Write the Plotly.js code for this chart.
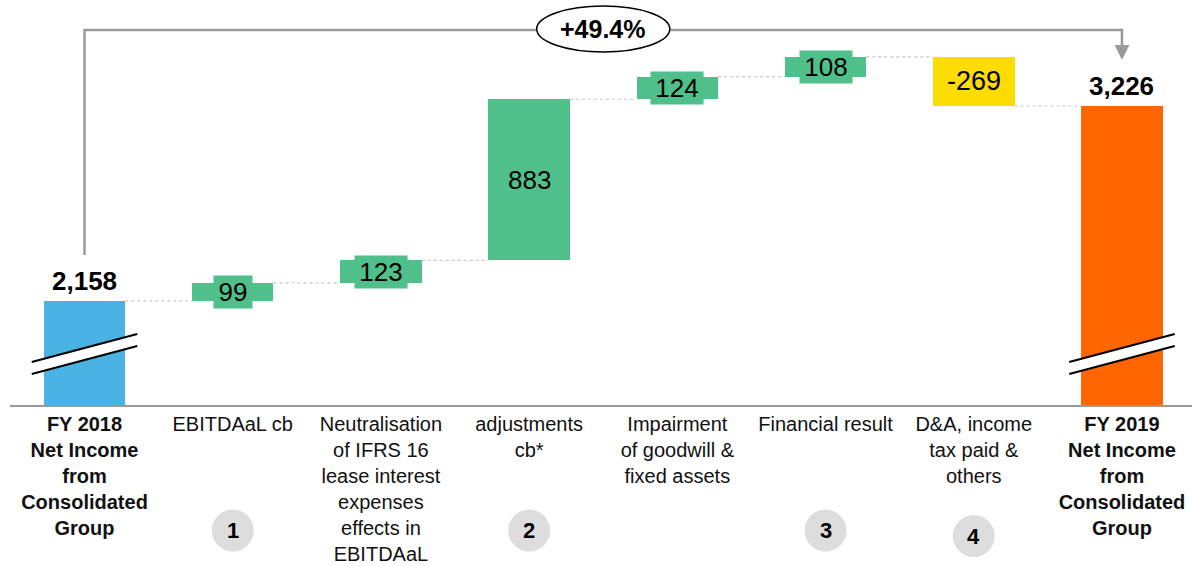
<!DOCTYPE html>
<html><head><meta charset="utf-8">
<script src="https://cdn.plot.ly/plotly-3.0.1.min.js"></script>
<style>html,body{margin:0;padding:0;background:#fff}#chart{width:1192px;height:566px}</style>
</head><body><div id="chart"></div>
<script>
// ---- data ----
const categories = [
  '<b>FY 2018</b><br><b>Net Income</b><br><b>from</b><br><b>Consolidated</b><br><b>Group</b>',
  'EBITDAaL cb',
  'Neutralisation<br>of IFRS 16<br>lease interest<br>expenses<br>effects in<br>EBITDAaL',
  'adjustments<br>cb*',
  'Impairment<br>of goodwill &<br>fixed assets',
  'Financial result',
  'D&A, income<br>tax paid &<br>others',
  '<b>FY 2019</b><br><b>Net Income</b><br><b>from</b><br><b>Consolidated</b><br><b>Group</b>'
];
const values = [2158, 99, 123, 883, 124, 108, -269, 3226];
const measures = ['absolute','relative','relative','relative','relative','relative','relative','total'];
const badges = ['', '1', '', '2', '', '3', '4', ''];
const growthLabel = '+49.4%';

// ---- styles ----
const colors = ['#4BB2E4','#50C08A','#50C08A','#50C08A','#50C08A','#50C08A','#FFDC00','#FF6600'];
const FONT = '"Liberation Sans", Arial, Helvetica, sans-serif';
const PLOT_H = 405;               // plot area height in px (margin top 0)
const py = p => 1 - p / PLOT_H;  // pixel row -> paper y
const BAR_W = 0.55;

// ---- derived ----
const idx = categories.map((_, i) => i);
const bases = [], tops = [];
let run = 0;
values.forEach((v, i) => {
  if (measures[i] === 'relative') { bases.push(run); run += v; }
  else { bases.push(0); run = v; }
  tops.push(run);
});

const bars = {
  type: 'bar', x: idx, y: values, base: bases, width: BAR_W,
  marker: {color: colors, line: {width: 0}}, hoverinfo: 'skip', cliponaxis: true
};

const cx = [], cy = [];
for (let i = 0; i < values.length - 1; i++) {
  cx.push(i + BAR_W / 2, i + 1 - BAR_W / 2, null);
  cy.push(tops[i], tops[i], null);
}
const connectors = {
  type: 'scatter', mode: 'lines', x: cx, y: cy, hoverinfo: 'skip',
  line: {color: '#c8c8c8', width: 1.2, dash: 'dot'}
};

const fmt = v => v.toLocaleString('en-US');
const annotations = [];
values.forEach((v, i) => {
  if (measures[i] === 'relative') {
    const txt = fmt(v);
    const a = {
      x: i, y: bases[i] + v / 2, xref: 'x', yref: 'y', text: txt, showarrow: false,
      font: {family: FONT, size: v < 0 ? 27 : 26, color: '#000'}, xanchor: 'center', yanchor: 'middle'
    };
    if (v > 0 && Math.abs(v) < 300) {
      a.bgcolor = colors[i]; a.width = txt.length * 14 + 10; a.height = 32; a.borderpad = 0;
    }
    annotations.push(a);
  } else {
    annotations.push({
      x: i, y: values[i], xref: 'x', yref: 'y', text: '<b>' + fmt(v) + '</b>', showarrow: false,
      font: {family: FONT, size: 26, color: '#000'}, xanchor: 'center', yanchor: 'middle', yshift: 20
    });
  }
});
annotations.push({
  x: 3.5, y: py(29), xref: 'x', yref: 'paper', text: '<b>' + growthLabel + '</b>', showarrow: false,
  font: {family: FONT, size: 25, color: '#000'}, xanchor: 'center', yanchor: 'middle'
});

const shapes = [];
// growth arrow
shapes.push({type: 'path', xref: 'x', yref: 'paper',
  path: `M 0,${py(255)} L 0,${py(30)} L 7,${py(30)} L 7,${py(46)}`,
  line: {color: '#9a9a9a', width: 2.5}});
shapes.push({type: 'path', xref: 'x', yref: 'paper',
  path: `M 6.95,${py(45)} L 7.05,${py(45)} L 7,${py(60)} Z`,
  fillcolor: '#9a9a9a', line: {width: 0}});
shapes.push({type: 'circle', xref: 'x', yref: 'paper',
  x0: 3.5 - 0.449, x1: 3.5 + 0.449, y0: py(52), y1: py(6),
  fillcolor: '#fff', line: {color: '#000', width: 1.5}});
// axis break marks on total bars
values.forEach((v, i) => {
  if (measures[i] === 'relative') return;
  const x0 = i - 0.356, x1 = i + 0.356;
  shapes.push({type: 'path', xref: 'x', yref: 'paper',
    path: `M ${x0},${py(362)} L ${x1},${py(334)} L ${x1},${py(346)} L ${x0},${py(374)} Z`,
    fillcolor: '#fff', line: {width: 0}});
  shapes.push({type: 'line', xref: 'x', yref: 'paper', x0: x0, x1: x1, y0: py(362), y1: py(334),
    line: {color: '#000', width: 2}});
  shapes.push({type: 'line', xref: 'x', yref: 'paper', x0: x0, x1: x1, y0: py(374), y1: py(346),
    line: {color: '#000', width: 2}});
});
// numbered badges under categories
const badgeRow = [0, 530.5, 0, 530.5, 0, 530.5, 536, 0];
badges.forEach((b, i) => {
  if (!b) return;
  const r = 21, cyp = badgeRow[i];
  shapes.push({type: 'circle', xref: 'x', yref: 'paper',
    x0: i - r / 148.2, x1: i + r / 148.2, y0: py(cyp + r), y1: py(cyp - r),
    fillcolor: '#dddddd', line: {width: 0}});
  annotations.push({x: i, y: py(cyp), xref: 'x', yref: 'paper', text: '<b>' + b + '</b>',
    showarrow: false, font: {family: FONT, size: 22, color: '#000'}, xanchor: 'center', yanchor: 'middle'});
});

const layout = {
  width: 1192, height: 566,
  margin: {l: 10, r: 0, t: 0, b: 161, pad: 0},
  paper_bgcolor: '#fff', plot_bgcolor: '#fff',
  showlegend: false, bargap: 0,
  font: {family: FONT, color: '#000'},
  xaxis: {
    range: [-0.5027, 7.4725], tickmode: 'array', tickvals: idx, ticktext: categories,
    showline: true, linecolor: '#9a9a9a', linewidth: 2, ticks: '', showgrid: false, zeroline: false,
    tickfont: {family: FONT, size: 20, color: '#111'}, tickangle: 0, fixedrange: true
  },
  yaxis: {range: [1588, 3806.6], visible: false, showgrid: false, zeroline: false, fixedrange: true},
  shapes: shapes,
  annotations: annotations
};

Plotly.newPlot('chart', [connectors, bars], layout, {displayModeBar: false, staticPlot: true});
</script></body></html>
